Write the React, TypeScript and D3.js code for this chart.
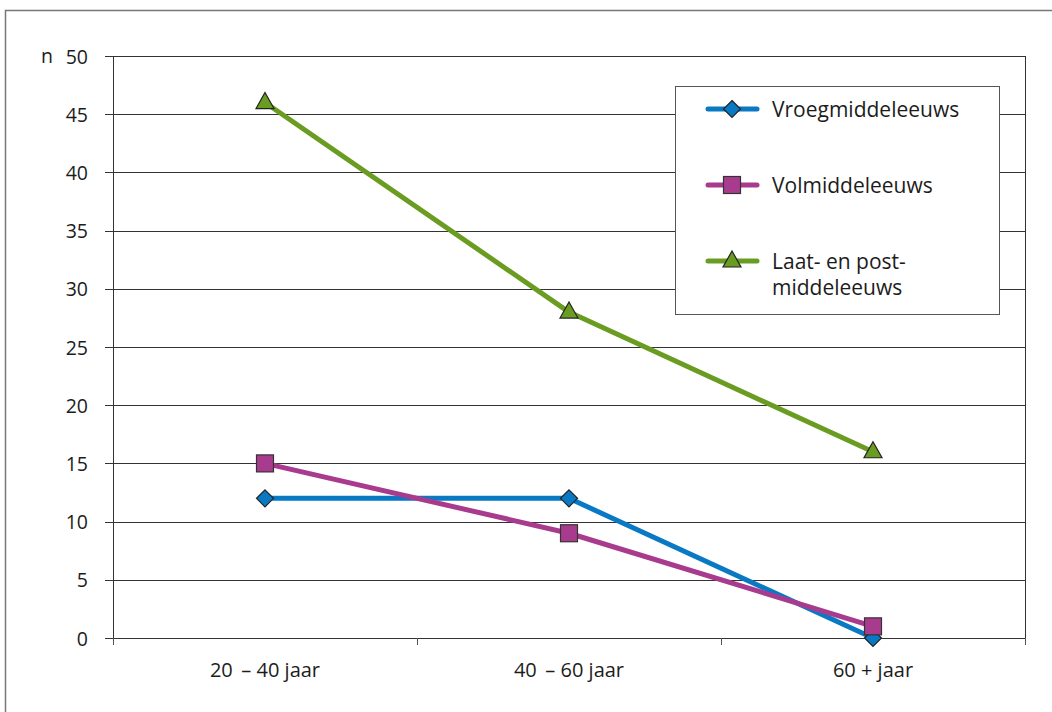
import React from "react";
import * as d3 from "d3";

const categories = ["20 \u2009\u2013 40 jaar", "40 \u2009\u2013 60 jaar", "60 + jaar"];
const yTicks = [0, 5, 10, 15, 20, 25, 30, 35, 40, 45, 50];
const vroeg = [12, 12, 0];
const vol = [15, 9, 1];
const laat = [46, 28, 16];

const seriesNames = ["Vroegmiddeleeuws", "Volmiddeleeuws", "Laat- en post-|middeleeuws"];
const seriesColors = ["#0a79c3", "#a83b8d", "#6b9c22"];
const seriesMarkers = ["diamond", "square", "triangle"];

const FONT = "'Open Sans', 'Noto Sans', sans-serif";
const TXT = "#1c1c1c";

function Marker({ type, x, y, color }: { type: string; x: number; y: number; color: string }) {
  const s = 8.5;
  if (type === "diamond") {
    return <path d={`M${x},${y - s} L${x + s},${y} L${x},${y + s} L${x - s},${y} Z`} fill={color} stroke="#222" strokeWidth={1.2} />;
  }
  if (type === "square") {
    return <rect x={x - 8.5} y={y - 8.5} width={17} height={17} fill={color} stroke="#333" strokeWidth={1.2} />;
  }
  return <path d={`M${x},${y - 10} L${x + 9},${y + 6} L${x - 9},${y + 6} Z`} fill={color} stroke="#222" strokeWidth={1.2} />;
}

export default function App() {
  const W = 1052, H = 712;
  const left = 113, right = 1025, top = 56, bottom = 638;
  const x = d3.scaleBand<string>().domain(categories).range([left, right]);
  const y = d3.scaleLinear().domain([0, 50]).range([bottom, top]);
  const cx = (c: string) => (x(c) as number) + x.bandwidth() / 2;
  const line = d3.line<number>().x((_, i) => cx(categories[i])).y((d) => y(d));
  const data = [vroeg, vol, laat];
  const xTickPos = [...categories.map((c) => x(c) as number), right];

  const legX = 675, legY = 86, legW = 324, legH = 228;
  const legRows = [109, 185, 261];

  return (
    <svg width={W} height={H} style={{ position: "absolute", left: 0, top: 0, background: "#fff" }}>
      <rect x={5.5} y={10.5} width={1100} height={800} fill="none" stroke="#777" strokeWidth={1.5} />
      {yTicks.map((t) => (
        <g key={t}>
          <line x1={105} x2={right} y1={Math.round(y(t)) + 0.5} y2={Math.round(y(t)) + 0.5} stroke="#333" strokeWidth={1} />
          <text x={88} y={y(t)} textAnchor="end" dominantBaseline="central" fontFamily={FONT} fontSize={19.5} fill={TXT}>{t}</text>
        </g>
      ))}
      <text x={53} y={y(50) - 1} textAnchor="end" dominantBaseline="central" fontFamily={FONT} fontSize={19.5} fill={TXT}>n</text>
      <line x1={left + 0.5} x2={left + 0.5} y1={top} y2={bottom + 7} stroke="#333" strokeWidth={1} />
      <line x1={right + 0.5} x2={right + 0.5} y1={top} y2={bottom} stroke="#333" strokeWidth={1} />
      <line x1={left} x2={right} y1={bottom + 0.5} y2={bottom + 0.5} stroke="#333" strokeWidth={1} />
      {xTickPos.map((p, i) => (
        <line key={i} x1={Math.round(p) + 0.5} x2={Math.round(p) + 0.5} y1={bottom} y2={bottom + 7} stroke="#555" strokeWidth={1} />
      ))}
      {categories.map((c) => (
        <text key={c} x={cx(c)} y={677} textAnchor="middle" fontFamily={FONT} fontSize={20} fill={TXT} style={{ whiteSpace: "pre" }}>{c}</text>
      ))}
      {data.map((d, si) => (
        <path key={si} d={line(d) || ""} fill="none" stroke={seriesColors[si]} strokeWidth={5} strokeLinejoin="round" />
      ))}
      {data.map((d, si) =>
        d.map((v, i) => <Marker key={`${si}-${i}`} type={seriesMarkers[si]} x={cx(categories[i])} y={y(v)} color={seriesColors[si]} />)
      )}
      <rect x={legX + 0.5} y={legY + 0.5} width={legW} height={legH} fill="#fff" stroke="#555" strokeWidth={1} />
      {seriesNames.map((n, i) => (
        <g key={n}>
          <line x1={708} x2={757} y1={legRows[i]} y2={legRows[i]} stroke={seriesColors[i]} strokeWidth={5} strokeLinecap="round" />
          <Marker type={seriesMarkers[i]} x={732} y={legRows[i]} color={seriesColors[i]} />
          {n.split("|").map((part, k) => (
            <text key={k} x={772} y={legRows[i] + k * 26} dominantBaseline="central" fontFamily={FONT} fontSize={21} fill={TXT}>{part}</text>
          ))}
        </g>
      ))}
    </svg>
  );
}
